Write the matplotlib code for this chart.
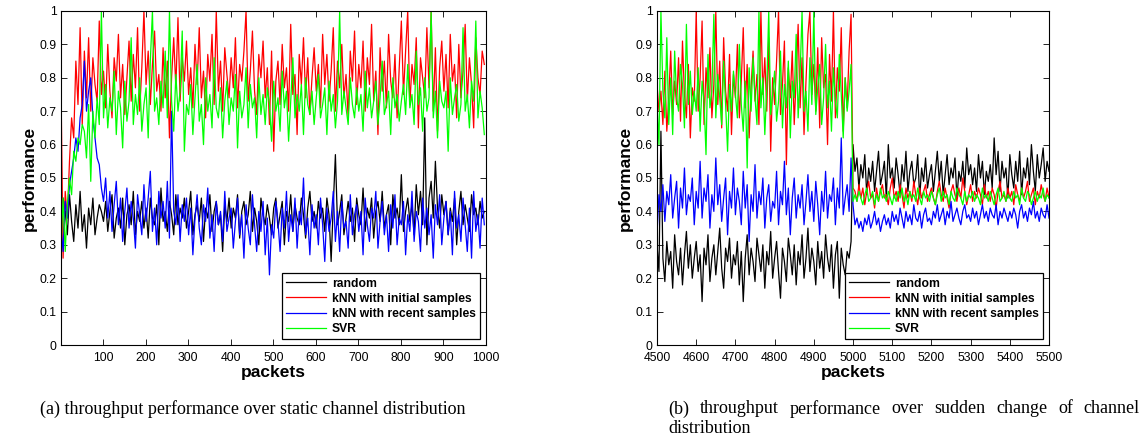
import numpy as np
import matplotlib
matplotlib.use("Agg")
import matplotlib.pyplot as plt

# (a) static channel, one value every 5 packets from packet 1 to 996
static_random = [
    0.36,0.44,0.40,0.33,0.45,0.37,0.31,0.42,0.35,0.46,0.34,0.39,0.29,0.41,0.36,0.44,0.33,0.38,0.42,0.40,
    0.37,0.43,0.34,0.40,0.45,0.32,0.38,0.41,0.35,0.44,0.30,0.39,0.42,0.36,0.46,0.33,0.40,0.37,0.43,0.35,
    0.41,0.32,0.44,0.38,0.36,0.42,0.30,0.47,0.37,0.40,0.34,0.43,0.39,0.33,0.45,0.36,0.41,0.38,0.44,0.35,
    0.40,0.46,0.33,0.39,0.42,0.37,0.44,0.31,0.41,0.38,0.45,0.34,0.40,0.43,0.36,0.39,0.28,0.42,0.37,0.44,
    0.35,0.41,0.38,0.45,0.32,0.40,0.43,0.36,0.39,0.46,0.34,0.41,0.37,0.30,0.44,0.39,0.36,0.42,0.38,0.33,
    0.41,0.44,0.35,0.39,0.43,0.30,0.40,0.37,0.45,0.34,0.42,0.38,0.36,0.44,0.39,0.32,0.41,0.46,0.37,0.40,
    0.35,0.43,0.38,0.41,0.34,0.44,0.39,0.25,0.42,0.57,0.36,0.40,0.45,0.33,0.38,0.43,0.37,0.41,0.31,0.44,
    0.39,0.36,0.47,0.34,0.41,0.38,0.44,0.32,0.40,0.43,0.37,0.46,0.35,0.39,0.42,0.30,0.45,0.38,0.41,0.36,
    0.51,0.34,0.40,0.44,0.37,0.42,0.33,0.48,0.39,0.46,0.36,0.68,0.30,0.44,0.49,0.38,0.55,0.41,0.35,0.45,
    0.39,0.43,0.33,0.41,0.37,0.44,0.30,0.40,0.46,0.36,0.42,0.38,0.34,0.45,0.39,0.41,0.36,0.43,0.38,0.40]
static_knn_initial = [
    0.78,0.26,0.46,0.38,0.55,0.68,0.62,0.85,0.72,0.95,0.66,0.88,0.74,0.92,0.70,0.86,0.78,0.73,0.97,0.75,
    0.82,0.71,0.90,0.76,0.68,0.86,0.79,0.93,0.74,0.84,0.69,0.80,0.91,0.73,0.87,0.77,0.95,0.70,0.83,1.00,
    0.78,0.88,0.72,0.84,0.94,0.76,0.81,0.70,0.89,0.74,0.85,0.62,0.80,0.92,0.77,0.98,0.73,0.86,0.79,0.91,
    0.75,0.83,0.71,0.90,0.78,0.95,0.74,0.82,0.68,0.87,0.79,0.93,0.72,1.00,0.76,0.85,0.70,0.89,0.81,0.74,
    0.86,0.77,0.92,0.71,0.84,0.79,0.88,1.00,0.73,0.82,0.94,0.76,0.69,0.87,0.80,0.91,0.74,0.83,0.66,0.88,
    0.58,0.79,0.85,0.72,0.90,0.77,0.83,0.70,0.96,0.75,0.81,0.63,0.87,0.78,0.92,0.74,0.86,0.69,0.80,0.89,
    0.76,0.84,0.71,0.93,0.78,0.87,0.73,0.82,0.95,0.70,0.85,0.77,0.90,0.74,0.81,0.68,0.88,0.79,0.94,0.72,
    0.84,0.77,0.91,0.70,0.86,0.78,0.96,0.73,0.82,0.63,0.89,0.76,0.85,0.71,0.93,0.79,0.74,0.87,0.68,0.83,
    0.97,0.75,0.88,1.00,0.72,0.84,0.78,0.92,0.65,0.86,0.80,0.74,0.95,0.77,1.00,0.70,0.89,0.64,0.83,0.91,
    0.76,0.87,0.71,0.93,0.79,0.84,0.68,0.90,0.74,0.82,0.96,0.73,0.86,0.78,0.65,0.92,0.80,0.75,0.88,0.84]
static_knn_recent = [
    0.35,0.28,0.43,0.38,0.48,0.52,0.56,0.62,0.58,0.68,0.72,0.85,0.70,0.76,0.80,0.68,0.62,0.56,0.54,0.47,
    0.43,0.50,0.38,0.46,0.34,0.42,0.49,0.36,0.44,0.31,0.40,0.47,0.35,0.43,0.38,0.29,0.45,0.39,0.33,0.48,
    0.37,0.44,0.52,0.34,0.41,0.30,0.46,0.38,0.43,0.35,0.49,0.32,0.70,0.40,0.36,0.45,0.31,0.42,0.37,0.44,
    0.33,0.41,0.27,0.38,0.45,0.35,0.30,0.42,0.37,0.47,0.32,0.39,0.28,0.43,0.36,0.40,0.31,0.46,0.34,0.38,
    0.41,0.29,0.37,0.44,0.33,0.39,0.26,0.42,0.35,0.30,0.45,0.36,0.28,0.40,0.34,0.43,0.27,0.38,0.21,0.36,
    0.32,0.43,0.37,0.28,0.41,0.35,0.46,0.31,0.39,0.34,0.44,0.29,0.40,0.36,0.50,0.33,0.38,0.27,0.42,0.35,
    0.39,0.30,0.44,0.36,0.25,0.41,0.34,0.38,0.46,0.31,0.40,0.28,0.43,0.35,0.37,0.29,0.45,0.33,0.39,0.42,
    0.34,0.40,0.27,0.44,0.36,0.31,0.41,0.38,0.46,0.29,0.37,0.43,0.33,0.39,0.28,0.42,0.35,0.45,0.30,0.38,
    0.36,0.43,0.27,0.39,0.34,0.46,0.31,0.40,0.37,0.28,0.44,0.35,0.41,0.33,0.39,0.26,0.42,0.36,0.45,0.30,
    0.38,0.43,0.33,0.40,0.27,0.46,0.35,0.39,0.31,0.44,0.36,0.28,0.41,0.26,0.46,0.34,0.39,0.29,0.44,0.36]
static_svr = [
    0.30,0.44,0.28,0.42,0.50,0.45,0.58,0.55,0.62,0.60,0.66,0.64,0.56,0.72,0.49,0.70,0.62,0.74,0.66,1.00,
    0.68,0.78,0.65,0.74,0.70,0.82,0.63,0.76,0.71,0.59,0.79,0.67,0.73,0.92,0.66,0.75,0.69,0.80,0.64,0.72,
    0.77,0.62,0.85,1.00,0.70,0.74,0.66,0.79,0.71,0.88,0.68,1.00,0.73,0.64,0.81,0.70,0.76,0.94,0.58,0.72,
    0.69,0.78,0.63,0.74,0.84,0.67,0.72,0.60,0.80,0.70,0.75,0.65,0.86,0.71,0.68,0.77,0.62,0.73,0.79,0.66,
    0.74,0.70,0.81,0.59,0.76,0.68,0.72,0.83,0.65,0.78,0.71,0.74,0.62,0.80,0.69,0.75,0.66,0.77,0.72,0.61,
    0.79,0.70,0.74,0.64,0.82,0.71,0.76,0.61,0.73,0.86,0.68,0.75,0.70,0.78,0.63,0.80,0.72,0.69,0.76,0.66,
    0.74,0.81,0.68,0.72,0.77,0.63,0.79,0.70,0.75,0.65,0.73,1.00,0.69,0.76,0.71,0.66,0.80,0.72,0.68,0.77,
    0.70,0.75,0.64,0.82,0.71,0.77,0.68,0.73,0.79,0.66,0.74,0.85,0.69,0.72,0.76,0.63,0.80,0.71,0.75,0.67,
    0.73,0.78,0.69,0.84,0.71,0.75,0.66,0.88,0.72,0.77,0.64,0.80,0.70,0.74,1.00,0.68,0.76,0.62,0.79,0.73,
    0.71,0.76,0.58,0.80,0.69,0.74,0.78,0.67,0.72,0.95,0.70,0.75,0.65,0.79,0.73,0.97,0.68,0.76,0.71,0.63]

# (b) sudden change at packet 5000, one value every 5 packets from 4500 to 5500
change_random = [
    0.30,0.22,0.64,0.26,0.19,0.31,0.24,0.28,0.17,0.33,0.25,0.21,0.29,0.18,0.27,0.34,0.23,0.30,0.20,0.26,
    0.31,0.22,0.27,0.13,0.29,0.24,0.33,0.19,0.26,0.30,0.21,0.28,0.35,0.23,0.17,0.29,0.25,0.32,0.20,0.27,
    0.24,0.31,0.18,0.28,0.13,0.26,0.33,0.21,0.29,0.25,0.19,0.32,0.27,0.22,0.30,0.17,0.28,0.24,0.34,0.20,
    0.26,0.31,0.22,0.14,0.29,0.25,0.19,0.32,0.27,0.21,0.30,0.18,0.28,0.24,0.33,0.20,0.26,0.35,0.22,0.29,
    0.25,0.18,0.31,0.23,0.28,0.20,0.33,0.26,0.22,0.30,0.17,0.27,0.31,0.14,0.29,0.24,0.21,0.28,0.26,0.31,
    0.60,
    0.52,0.56,0.47,0.54,0.50,0.57,0.45,0.53,0.49,0.55,0.46,0.52,0.58,0.48,0.51,0.55,0.44,0.60,0.50,0.53,
    0.47,0.56,0.51,0.45,0.54,0.49,0.58,0.46,0.52,0.55,0.48,0.50,0.57,0.44,0.53,0.49,0.56,0.47,0.51,0.54,
    0.46,0.52,0.58,0.49,0.55,0.45,0.51,0.57,0.48,0.53,0.50,0.56,0.44,0.52,0.49,0.55,0.47,0.59,0.51,0.54,
    0.48,0.53,0.46,0.57,0.50,0.55,0.45,0.52,0.49,0.54,0.47,0.62,0.51,0.58,0.46,0.55,0.50,0.53,0.44,0.57,
    0.51,0.47,0.55,0.49,0.58,0.45,0.53,0.50,0.56,0.48,0.60,0.52,0.46,0.57,0.50,0.54,0.59,0.49,0.55,0.52]
change_knn_initial = [
    0.78,0.70,0.76,0.66,0.82,0.64,0.74,0.88,0.69,0.79,0.72,0.86,0.67,0.91,0.75,0.68,0.84,0.62,0.77,0.73,
    1.00,0.70,0.80,0.97,0.66,0.83,0.74,0.89,0.68,0.78,1.00,0.72,0.85,0.65,0.92,0.76,0.70,0.87,0.63,0.81,
    0.74,0.90,0.68,0.79,0.95,0.71,0.84,0.62,0.77,0.88,0.73,0.81,0.66,1.00,0.75,0.86,0.70,0.92,0.58,0.80,
    0.72,0.85,1.00,0.69,0.78,0.91,0.54,0.83,0.74,0.88,0.66,0.80,0.96,0.71,0.86,0.63,0.79,0.93,1.00,0.75,
    0.84,0.70,0.89,0.65,0.92,0.77,0.81,0.60,0.87,0.73,1.00,0.68,0.83,0.76,0.95,0.64,0.80,0.71,0.88,0.99,
    0.47,
    0.46,0.43,0.48,0.44,0.47,0.42,0.46,0.49,0.44,0.45,0.41,0.47,0.43,0.46,0.48,0.44,0.45,0.42,0.47,0.50,
    0.44,0.46,0.43,0.48,0.45,0.41,0.47,0.44,0.46,0.43,0.49,0.45,0.42,0.47,0.44,0.46,0.48,0.43,0.45,0.47,
    0.44,0.42,0.46,0.49,0.45,0.43,0.47,0.44,0.41,0.46,0.48,0.45,0.43,0.47,0.44,0.50,0.46,0.42,0.45,0.48,
    0.43,0.46,0.44,0.47,0.45,0.42,0.48,0.44,0.46,0.43,0.47,0.45,0.41,0.46,0.49,0.44,0.45,0.43,0.47,0.44,
    0.46,0.42,0.48,0.45,0.43,0.47,0.44,0.46,0.49,0.43,0.45,0.47,0.42,0.46,0.44,0.48,0.45,0.43,0.47,0.44]
change_knn_recent = [
    0.33,0.45,0.40,0.48,0.37,0.46,0.42,0.51,0.38,0.44,0.49,0.35,0.47,0.41,0.53,0.39,0.45,0.43,0.50,0.36,
    0.46,0.41,0.55,0.38,0.47,0.43,0.51,0.35,0.45,0.40,0.56,0.42,0.48,0.37,0.44,0.50,0.33,0.46,0.41,0.53,
    0.39,0.47,0.43,0.36,0.52,0.41,0.48,0.31,0.45,0.40,0.54,0.38,0.46,0.42,0.50,0.35,0.44,0.48,0.37,0.43,
    0.41,0.52,0.36,0.46,0.42,0.55,0.39,0.47,0.33,0.44,0.50,0.38,0.45,0.41,0.48,0.36,0.43,0.51,0.40,0.46,
    0.37,0.49,0.42,0.33,0.46,0.40,0.52,0.38,0.45,0.43,0.50,0.36,0.47,0.41,0.62,0.39,0.44,0.48,0.40,0.56,
    0.42,
    0.36,0.38,0.35,0.37,0.34,0.38,0.36,0.39,0.35,0.37,0.40,0.36,0.38,0.34,0.37,0.39,0.36,0.38,0.35,0.40,
    0.37,0.39,0.36,0.41,0.38,0.35,0.40,0.37,0.39,0.36,0.42,0.38,0.37,0.40,0.35,0.39,0.41,0.37,0.38,0.36,
    0.40,0.38,0.42,0.37,0.39,0.41,0.36,0.40,0.38,0.43,0.37,0.39,0.41,0.38,0.36,0.40,0.42,0.38,0.39,0.37,
    0.41,0.38,0.40,0.36,0.39,0.42,0.38,0.40,0.37,0.41,0.39,0.38,0.42,0.36,0.40,0.38,0.41,0.39,0.37,0.40,
    0.38,0.41,0.39,0.35,0.40,0.42,0.38,0.40,0.37,0.41,0.39,0.43,0.38,0.40,0.37,0.41,0.39,0.38,0.42,0.38]
change_svr = [
    0.72,0.60,1.00,0.76,0.68,0.92,0.66,0.80,0.63,0.88,0.74,0.70,0.84,0.78,0.65,0.96,0.72,0.82,0.69,0.76,
    0.70,0.83,0.64,0.79,0.73,0.57,0.87,0.71,0.76,0.99,0.68,0.81,0.74,0.66,0.85,0.72,0.58,0.78,0.70,0.82,
    0.75,0.68,0.90,0.72,0.64,0.79,0.53,0.83,0.70,0.86,0.74,0.66,1.00,0.71,0.80,0.63,0.77,1.00,0.69,0.75,
    0.82,0.67,0.73,0.88,0.65,0.78,0.71,0.85,0.62,0.79,0.74,0.93,0.68,0.81,1.00,0.70,0.76,0.64,0.86,0.72,
    1.00,0.69,0.77,0.84,0.66,0.74,0.90,0.71,0.79,0.64,0.83,0.73,0.68,0.87,0.75,0.62,0.80,0.70,0.76,0.84,
    0.43,
    0.45,0.43,0.46,0.44,0.42,0.45,0.47,0.43,0.44,0.46,0.42,0.45,0.43,0.47,0.44,0.45,0.43,0.46,0.44,0.42,
    0.45,0.43,0.46,0.44,0.47,0.43,0.45,0.42,0.46,0.44,0.45,0.43,0.47,0.44,0.42,0.46,0.44,0.45,0.43,0.46,
    0.44,0.42,0.45,0.47,0.43,0.46,0.44,0.45,0.42,0.46,0.44,0.43,0.47,0.45,0.44,0.42,0.46,0.43,0.45,0.44,
    0.46,0.43,0.45,0.44,0.42,0.47,0.44,0.45,0.43,0.46,0.44,0.42,0.45,0.47,0.43,0.44,0.46,0.43,0.45,0.44,
    0.43,0.46,0.44,0.45,0.42,0.47,0.44,0.43,0.46,0.45,0.42,0.44,0.46,0.43,0.45,0.44,0.47,0.43,0.45,0.44]

labels = ['random', 'kNN with initial samples', 'kNN with recent samples', 'SVR']
colors = ['#000000', '#ff0000', '#0000ff', '#00ff00']
y_ticks = [0, 0.1, 0.2, 0.3, 0.4, 0.5, 0.6, 0.7, 0.8, 0.9, 1]
y_ticklabels = ['0', '0.1', '0.2', '0.3', '0.4', '0.5', '0.6', '0.7', '0.8', '0.9', '1']
caption_a = '(a) throughput performance over static channel distribution'
caption_b = '(b) throughput performance over sudden change of channel distribution'

plt.rcParams['font.family'] = ['Liberation Sans', 'DejaVu Sans']

fig = plt.figure(figsize=(11.46, 4.45), dpi=100)
ax1 = fig.add_axes([0.0532, 0.2247, 0.3709, 0.7506])
ax2 = fig.add_axes([0.5733, 0.2247, 0.3421, 0.7506])


def draw_panel(ax, start, stop, series, xticks, legend_x):
    for values, label, color in zip(series, labels, colors):
        x = np.linspace(start, stop, len(values))
        ax.plot(x, values, color=color, lw=0.9, label=label)
    ax.set_xlim(start, stop)
    ax.set_ylim(0, 1)
    ax.set_xticks(xticks)
    ax.set_yticks(y_ticks)
    ax.set_yticklabels(y_ticklabels)
    ax.tick_params(direction='in', top=True, right=True, length=4, width=0.6,
                   labelsize=8.8, pad=3)
    ax.tick_params(axis='x', pad=5)
    for s in ax.spines.values():
        s.set_linewidth(0.8)
    ax.set_xlabel('packets', fontsize=12.5, fontweight='bold', labelpad=1)
    ax.set_ylabel('performance', fontsize=12.5, fontweight='bold', labelpad=2)
    leg = ax.legend(loc='lower right', bbox_to_anchor=(legend_x, 0.018), borderaxespad=0,
                    fancybox=False, framealpha=1, edgecolor='black', handlelength=3.3,
                    handletextpad=0.5, labelspacing=0.25, borderpad=0.35,
                    prop={'weight': 'bold', 'size': 8.7})
    leg.get_frame().set_linewidth(0.9)


draw_panel(ax1, 1, 996, [static_random, static_knn_initial, static_knn_recent, static_svr],
           list(range(100, 1001, 100)), 0.986)
draw_panel(ax2, 4500, 5500, [change_random, change_knn_initial, change_knn_recent, change_svr],
           list(range(4500, 5501, 100)), 0.985)
ax1.set_xlim(1, 1000)

# captions, (b) justified over two lines like the paper layout
cap_font = dict(family=['Liberation Serif', 'DejaVu Serif'], fontsize=13, va='center')
fig.text(0.035, 0.081, caption_a, ha='left', **cap_font)

words = caption_b.split()
line1, line2 = words[:-1], words[-1:]
W = fig.get_figwidth() * fig.dpi
x_left, x_right = 668 / W, 1140 / W
texts = [fig.text(x_left, 0.081, w, ha='left', **cap_font) for w in line1]
renderer = fig.canvas.get_renderer()
widths = [t.get_window_extent(renderer).width for t in texts]
gap = ((x_right - x_left) * W - sum(widths)) / (len(texts) - 1)
pos = x_left * W
for t, w in zip(texts, widths):
    t.set_x(pos / W)
    pos += w + gap
fig.text(x_left, 0.036, ' '.join(line2), ha='left', **cap_font)

fig.savefig('out.png', dpi=100)
